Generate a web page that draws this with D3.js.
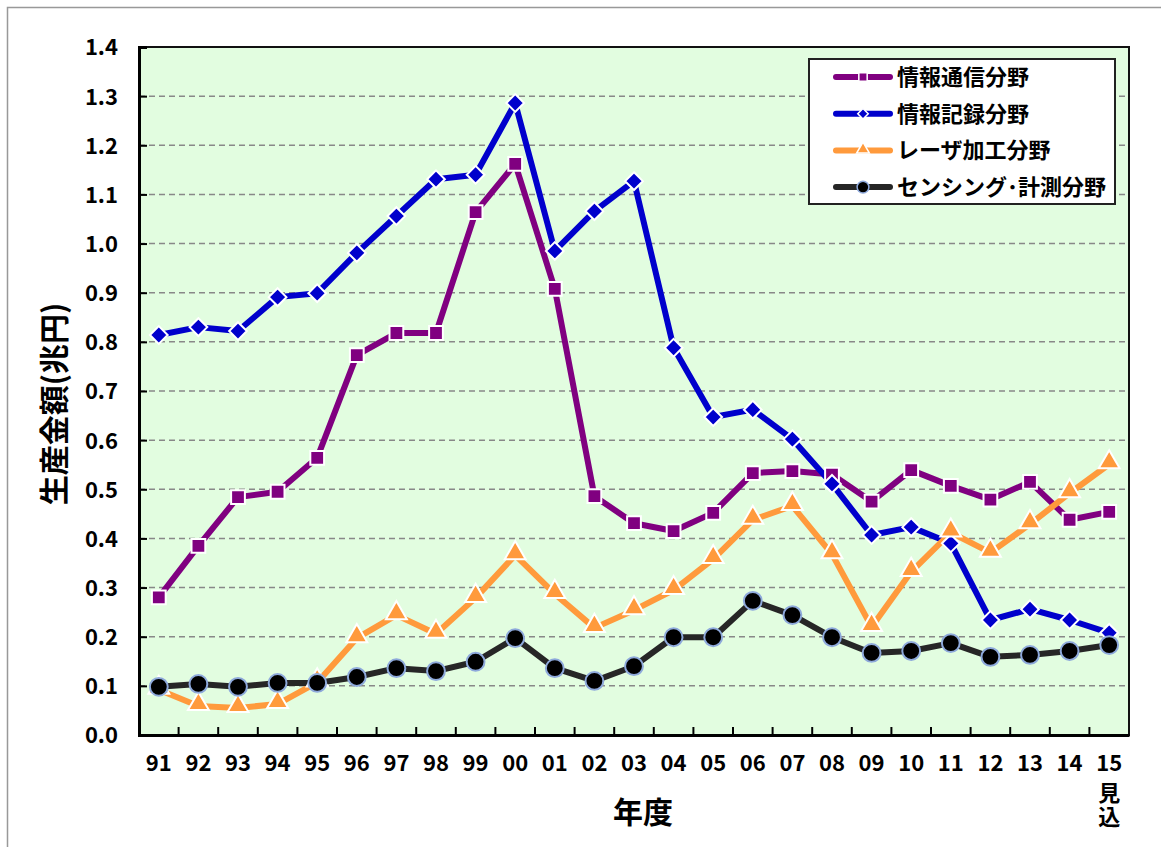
<!DOCTYPE html>
<html>
<head>
<meta charset="utf-8">
<script src="https://cdn.jsdelivr.net/npm/d3@7"></script>
<style>
  body { margin: 0; background: #fff; }
  svg text { font-family: "Noto Sans CJK JP", "Noto Sans", sans-serif; font-weight: bold; fill: #000; }
</style>
</head>
<body>
<div id="chart"></div>
<script>
// data
var years = ["91","92","93","94","95","96","97","98","99","00","01","02","03","04","05","06","07","08","09","10","11","12","13","14","15"];
var tsushin = [0.28,0.385,0.484,0.495,0.564,0.773,0.818,0.818,1.064,1.162,0.908,0.486,0.431,0.415,0.452,0.533,0.537,0.53,0.475,0.539,0.507,0.479,0.515,0.438,0.454];
var kiroku  = [0.814,0.830,0.822,0.891,0.899,0.981,1.056,1.131,1.140,1.286,0.985,1.066,1.127,0.788,0.647,0.662,0.602,0.511,0.407,0.423,0.39,0.234,0.256,0.234,0.208];
var laser   = [0.092,0.059,0.055,0.063,0.107,0.197,0.244,0.206,0.279,0.366,0.287,0.218,0.254,0.295,0.358,0.438,0.466,0.368,0.22,0.332,0.412,0.371,0.429,0.492,0.551];
var sensing = [0.098,0.104,0.098,0.106,0.106,0.118,0.136,0.13,0.149,0.197,0.136,0.11,0.14,0.199,0.199,0.273,0.244,0.199,0.167,0.171,0.187,0.159,0.163,0.171,0.183];
var yTicks = [0,0.1,0.2,0.3,0.4,0.5,0.6,0.7,0.8,0.9,1.0,1.1,1.2,1.3,1.4];

var series = [
  {name: "情報通信分野", values: tsushin, color: "#800080", marker: "square"},
  {name: "情報記録分野", values: kiroku, color: "#0000cc", marker: "diamond"},
  {name: "レーザ加工分野", values: laser, color: "#ff9a3c", marker: "triangle"},
  {name: "センシング･計測分野", values: sensing, color: "#262626", marker: "circle"}
];

var W = 1161, H = 847;
var margin = {top: 47, right: 32, bottom: 112, left: 139},
    width = W - margin.left - margin.right,
    height = H - margin.top - margin.bottom;

var svg = d3.select("#chart").append("svg")
    .attr("width", W)
    .attr("height", H);

// outer frame
svg.append("rect")
    .attr("x", 7.5).attr("y", 7.5)
    .attr("width", W + 10).attr("height", H + 10)
    .attr("fill", "none").attr("stroke", "#999").attr("stroke-width", 1.5);

var g = svg.append("g")
    .attr("transform", "translate(" + margin.left + "," + margin.top + ")");

var x = d3.scaleBand().domain(years).range([0, width]);
var y = d3.scaleLinear().domain([0, 1.4]).range([height, 0]);

// plot background
g.append("rect")
    .attr("width", width).attr("height", height)
    .attr("fill", "#e2fde0");

// gridlines
g.selectAll(".grid")
    .data(yTicks.filter(function(d) { return d > 0 && d < 1.4; }))
  .enter().append("line")
    .attr("x1", 0).attr("x2", width)
    .attr("y1", function(d) { return y(d); })
    .attr("y2", function(d) { return y(d); })
    .attr("stroke", "#888").attr("stroke-width", 1.5)
    .attr("stroke-dasharray", "6,4");

// border
g.append("rect")
    .attr("width", width).attr("height", height)
    .attr("fill", "none").attr("stroke", "#111").attr("stroke-width", 2);

// Y axis
var yAxis = g.append("g")
    .call(d3.axisLeft(y).tickValues(yTicks).tickFormat(d3.format(".1f")).tickSize(-8));
yAxis.select(".domain").attr("stroke", "#000").attr("stroke-width", 3);
yAxis.selectAll(".tick line").attr("stroke", "#000").attr("stroke-width", 2);
yAxis.selectAll("text").style("font-size", "22px").attr("x", -21).attr("dy", "0.36em");

// X axis
var xAxis = g.append("g")
    .attr("transform", "translate(0," + height + ")")
    .call(d3.axisBottom(x).tickSize(0).tickPadding(20));
xAxis.select(".domain").attr("stroke", "#000").attr("stroke-width", 3);
xAxis.selectAll("text").style("font-size", "22px");

// inner ticks between categories
g.selectAll(".xtick")
    .data(years.slice(1))
  .enter().append("line")
    .attr("x1", function(d) { return x(d); })
    .attr("x2", function(d) { return x(d); })
    .attr("y1", height).attr("y2", height - 8)
    .attr("stroke", "#000").attr("stroke-width", 2);

// 見込 under 15, written vertically
g.append("text")
    .attr("x", x("15") + x.bandwidth() / 2)
    .attr("y", height + 47)
    .style("writing-mode", "vertical-rl")
    .style("font-size", "22px")
    .style("letter-spacing", "2px")
    .text("見込");

// axis titles
svg.append("text")
    .attr("x", 643).attr("y", 823)
    .attr("text-anchor", "middle")
    .style("font-size", "30px")
    .text("年度");

svg.append("text")
    .attr("transform", "translate(65,404) rotate(-90)")
    .attr("text-anchor", "middle")
    .style("font-size", "30px")
    .text("生産金額(兆円)");

// lines
var line = d3.line()
    .x(function(d, i) { return x(years[i]) + x.bandwidth() / 2; })
    .y(function(d) { return y(d); });

var symTypes = {square: d3.symbolSquare, diamond: d3.symbolDiamond2, triangle: d3.symbolTriangle, circle: d3.symbolCircle};
var symSizes = {square: 190, diamond: 200, triangle: 190, circle: 250};

function markerStroke(s) {
  return s.marker === "circle" ? "#8ea9db" : "#fff";
}
function markerFill(s) {
  return s.marker === "circle" ? "#000" : s.color;
}

series.forEach(function(s) {
  g.append("path")
    .datum(s.values)
    .attr("fill", "none")
    .attr("stroke", s.color)
    .attr("stroke-width", 6)
    .attr("stroke-linejoin", "round")
    .attr("d", line);
});

series.forEach(function(s) {
  g.selectAll(null)
    .data(s.values)
  .enter().append("path")
    .attr("transform", function(d, i) {
      var dy = s.marker === "triangle" ? 2 : 0;
      return "translate(" + (x(years[i]) + x.bandwidth() / 2) + "," + (y(d) - dy) + ")";
    })
    .attr("d", d3.symbol().type(symTypes[s.marker]).size(symSizes[s.marker])())
    .attr("fill", markerFill(s))
    .attr("stroke", markerStroke(s))
    .attr("stroke-width", 2);
});

// legend
var legend = svg.append("g").attr("transform", "translate(809,59)");
legend.append("rect")
    .attr("width", 306).attr("height", 145)
    .attr("fill", "#fff").attr("stroke", "#222").attr("stroke-width", 2);

series.forEach(function(s, i) {
  var ly = 18 + i * 36.7;
  var row = legend.append("g").attr("transform", "translate(0," + ly + ")");
  row.append("line")
    .attr("x1", 27).attr("x2", 81)
    .attr("y1", 0).attr("y2", 0)
    .attr("stroke", s.color).attr("stroke-width", 6)
    .attr("stroke-linecap", "round");
  row.append("path")
    .attr("transform", "translate(54," + (s.marker === "triangle" ? -1 : 0) + ")")
    .attr("d", d3.symbol().type(symTypes[s.marker]).size(s.marker === "circle" ? 110 : 70)())
    .attr("fill", markerFill(s))
    .attr("stroke", markerStroke(s))
    .attr("stroke-width", 1.5);
  row.append("text")
    .attr("x", 88).attr("y", 8)
    .style("font-size", "22px")
    .text(s.name);
});
</script>
</body>
</html>
